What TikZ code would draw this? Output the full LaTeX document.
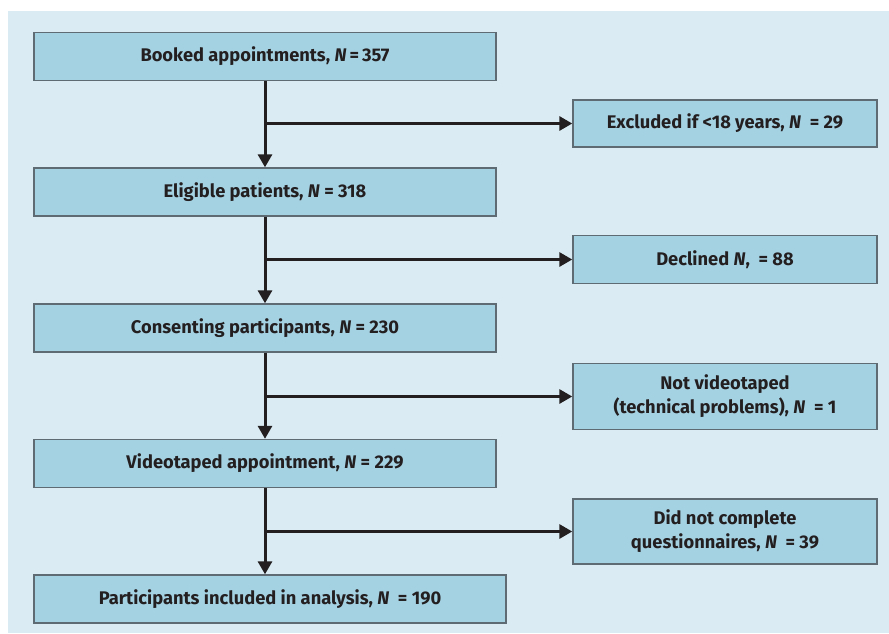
\documentclass[tikz,border=0pt]{standalone}
\usepackage{fontspec}
\setmainfont{Fira Sans}
\usetikzlibrary{arrows.meta}
\definecolor{bgblue}{HTML}{DAEBF3}
\definecolor{boxblue}{HTML}{A5D2E3}
\definecolor{boxline}{HTML}{5F6B73}
\definecolor{arrowcol}{HTML}{231F20}
\tikzset{
  box/.style={draw=boxline, fill=boxblue, line width=1.4pt, inner sep=0pt,
    align=center, font=\fontsize{18.3}{24}\selectfont\bfseries, text=arrowcol},
  leftbox/.style={box, minimum width=462pt, minimum height=48pt},
  rightbox/.style={box, minimum width=304pt},
  flow/.style={draw=arrowcol, line width=3pt, -{Triangle[length=13pt,width=14pt]}}
}
\newcommand{\NN}{\textit{N}}
\begin{document}
\begin{tikzpicture}[x=1pt,y=-1pt]
\useasboundingbox (0,0) rectangle (889,633);
\fill[white] (0,0) rectangle (889,633);
\fill[bgblue] (8,11) rectangle (889,633);

\node[leftbox] (b1) at (265,56.5) {Booked appointments, \NN\,=\,357};
\node[leftbox] (b2) at (265,192) {Eligible patients, \NN\ = 318};
\node[leftbox] (b3) at (265,328) {Consenting participants, \NN\ = 230};
\node[leftbox] (b4) at (265,463.5) {Videotaped appointment, \NN\ = 229};
\node[box, minimum width=472pt, minimum height=48pt] (b5) at (270,599) {Participants included in analysis, \NN\ \ = 190};

\node[rightbox, minimum height=47pt] (r1) at (725,123.5) {Excluded if <18 years, \NN\ \ = 29};
\node[rightbox, minimum height=48pt] (r2) at (725,259.5) {Declined \NN, \ = 88};
\node[rightbox, minimum height=66pt] (r3) at (725,396.5) {Not videotaped\\(technical problems), \NN\ \ = 1};
\node[rightbox, minimum height=65pt] (r4) at (725,531.5) {Did not complete\\questionnaires, \NN\ \ = 39};

\draw[flow] (b1.south) -- (b2.north);
\draw[flow] (b2.south) -- (b3.north);
\draw[flow] (b3.south) -- (b4.north);
\draw[flow] (b4.south) -- (b4.south |- b5.north);

\draw[flow] (b1.south |- r1.west) -- (r1.west);
\draw[flow] (b2.south |- r2.west) -- (r2.west);
\draw[flow] (b3.south |- r3.west) -- (r3.west);
\draw[flow] (b4.south |- r4.west) -- (r4.west);
\end{tikzpicture}
\end{document}
